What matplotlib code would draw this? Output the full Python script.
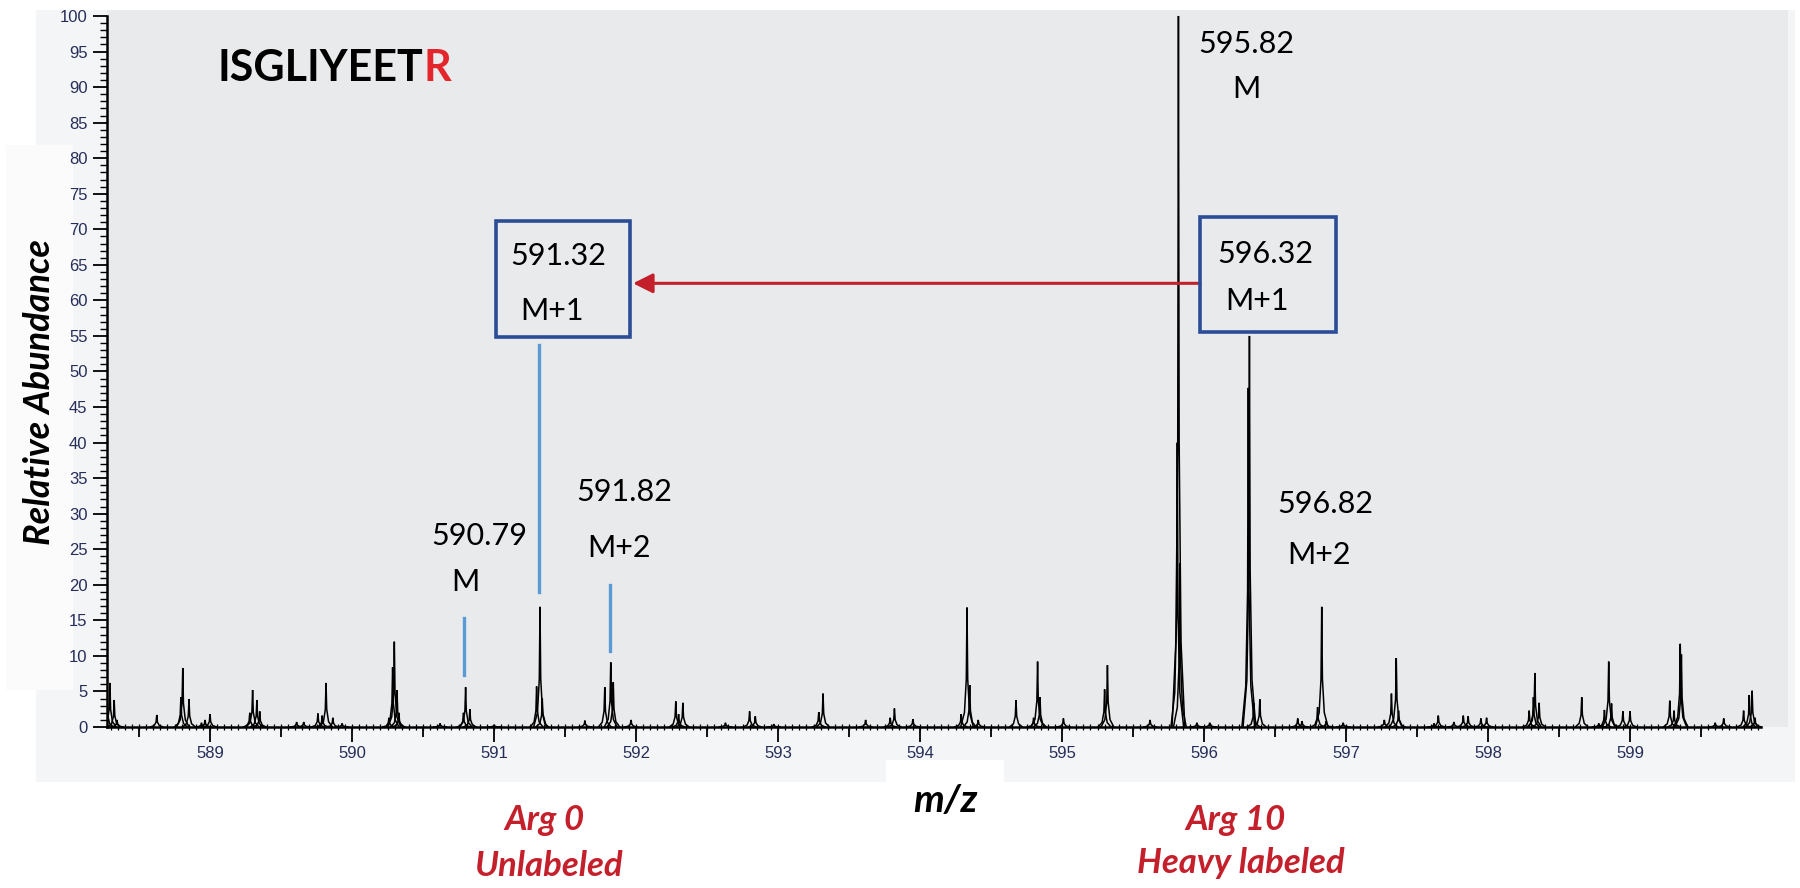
import numpy as np
import matplotlib
matplotlib.use("Agg")
import matplotlib.pyplot as plt
from matplotlib.patches import Rectangle
from matplotlib.ticker import MultipleLocator, FixedLocator

# Peak list: m/z and relative abundance (%)
PEAK_MZ = [
    588.275, 588.295, 588.325, 588.345, 588.625, 588.795, 588.808, 588.852,
    588.94, 588.965, 589.0, 589.28, 589.30, 589.33, 589.35, 589.61, 589.66,
    589.76, 589.79, 589.817, 589.865, 589.93, 590.26, 590.286, 590.298,
    590.317, 590.33, 590.62, 590.785, 590.80, 590.83, 591.0, 591.30, 591.324,
    591.34, 591.64, 591.78, 591.822, 591.84, 591.965, 592.28, 592.30, 592.33,
    592.63, 592.80, 592.84, 592.97, 593.287, 593.317, 593.617, 593.79, 593.82,
    593.95, 594.29, 594.331, 594.35, 594.41, 594.676, 594.80, 594.828,
    594.845, 595.01, 595.30, 595.32, 595.62, 595.812, 595.82, 595.83, 595.95,
    596.04, 596.312, 596.32, 596.35, 596.393, 596.66, 596.69, 596.80, 596.829,
    596.86, 596.98, 597.27, 597.32, 597.354, 597.37, 597.62, 597.65, 597.76,
    597.826, 597.86, 597.95, 597.99, 598.29, 598.32, 598.33, 598.36, 598.66,
    598.78, 598.82, 598.85, 598.87, 598.95, 599.0, 599.28, 599.31, 599.354,
    599.362, 599.60, 599.66, 599.80, 599.84, 599.86, 599.88,
]
PEAK_INT = [
    4.0, 6.2, 3.8, 1.0, 1.7, 4.2, 8.3, 3.9,
    0.6, 1.0, 1.8, 2.0, 5.2, 3.8, 2.2, 0.7, 0.7,
    1.9, 1.6, 6.2, 1.3, 0.5, 1.3, 8.4, 12.0,
    5.2, 2.0, 0.5, 2.0, 5.6, 2.5, 0.3, 5.7, 16.9,
    4.0, 0.9, 5.6, 9.1, 6.3, 1.0, 3.6, 1.8, 3.4,
    0.6, 2.2, 1.5, 0.4, 2.1, 4.7, 1.0, 1.3, 2.6,
    1.1, 1.8, 16.8, 5.9, 1.0, 3.8, 1.3, 9.2,
    4.2, 1.2, 5.3, 8.7, 1.0, 40.0, 100.0, 23.0, 0.6,
    0.6, 47.7, 55.0, 3.4, 3.9, 1.2, 0.8, 2.8, 16.9,
    0.8, 0.6, 1.0, 4.7, 9.7, 2.3, 0.5, 1.6, 0.7,
    1.6, 1.5, 1.2, 1.3, 2.3, 4.2, 7.6, 3.4, 4.2,
    0.5, 2.4, 9.2, 3.3, 2.2, 2.2, 3.7, 2.3, 11.7,
    10.2, 0.6, 1.2, 2.3, 4.5, 5.1, 1.3,
]

# Isotope labels
LABEL_MZ = ["590.79", "591.32", "591.82", "595.82", "596.32", "596.82"]
LABEL_TAG = ["M", "M+1", "M+2", "M", "M+1", "M+2"]

# labelled m/z ticks
XTICKS = [589, 590, 591, 592, 593, 594, 595, 596, 597, 598, 599]

PEPTIDE = "ISGLIYEET"
PEPTIDE_LAST = "R"

# profile shape of one peak (m/z offset, fraction of height)
SHAPE_DX = [-0.045, -0.018, -0.005, 0.0, 0.005, 0.018, 0.045]
SHAPE_FY = [0.0, 0.12, 0.4, 1.0, 0.4, 0.12, 0.0]

W, H = 1800.0, 888.0
X_LEFT, X_RIGHT, X_END = 588.2746, 600.1127, 599.92
PLOT_BG = "#e9eaec"
PANEL_BG = "#f4f5f7"
BOX_BLUE = "#2b4c96"
LINE_BLUE = "#5b9bd5"
DARK_RED = "#c4202b"
TICK_COL = "#262e58"
FONT = "Lato"


def px_rect(x0, y0, x1, y1, color):
    r = Rectangle((x0 / W, 1 - y1 / H), (x1 - x0) / W, (y1 - y0) / H,
                  transform=fig.transFigure, facecolor=color,
                  edgecolor="none", zorder=-5)
    fig.add_artist(r)


fig = plt.figure(figsize=(18, 8.88), dpi=100)
fig.patch.set_facecolor("white")

# background panels of the screenshot
px_rect(36, 10, 1795, 782, PANEL_BG)
px_rect(6, 145, 73, 690, "#fbfbfc")
px_rect(886, 760, 1004, 830, "white")

ax = fig.add_axes([107 / W, 1 - 727 / H, (1788 - 107) / W, (727 - 10) / H])
ax.set_facecolor(PLOT_BG)
ax.set_xlim(X_LEFT, X_RIGHT)
ax.set_ylim(0, 100.84)

# spectrum
for mz, h in zip(PEAK_MZ, PEAK_INT):
    xs = [mz + d for d in SHAPE_DX]
    ys = [h * f for f in SHAPE_FY]
    ax.plot(xs, ys, color="black", lw=1.1, solid_joinstyle="miter")

# axes styling
for s in ["top", "right"]:
    ax.spines[s].set_visible(False)
ax.spines["left"].set_bounds(0, 100)
ax.spines["bottom"].set_bounds(X_LEFT, X_END)
for s in ["left", "bottom"]:
    ax.spines[s].set_linewidth(1.8)
    ax.spines[s].set_color("black")

ax.xaxis.set_major_locator(FixedLocator(XTICKS))
ax.xaxis.set_minor_locator(FixedLocator([v + 0.5 for v in [588] + XTICKS]))
ax.yaxis.set_major_locator(MultipleLocator(5))
ax.yaxis.set_minor_locator(MultipleLocator(1))
ax.tick_params(axis="x", which="major", length=11, width=1.3, pad=3,
               labelsize=12, labelcolor=TICK_COL)
ax.tick_params(axis="x", which="minor", length=7, width=1.3)
ax.tick_params(axis="y", which="major", length=10, width=1.3, pad=4,
               labelsize=12, labelcolor=TICK_COL)
ax.tick_params(axis="y", which="minor", length=5, width=1.0)
for lab in ax.get_xticklabels() + ax.get_yticklabels():
    lab.set_family("Liberation Sans")

# tiny ticks along the m/z axis
sec = ax.secondary_xaxis(0)
sec.xaxis.set_major_locator(FixedLocator(np.arange(588.3, X_END, 0.05)))
sec.tick_params(axis="x", length=4, width=0.9, direction="inout", labelbottom=False)
sec.spines["bottom"].set_visible(False)

# peptide name, last residue in red
t1 = ax.text(589.056, 90.85, PEPTIDE, fontsize=31, fontweight="bold",
             family=FONT, ha="left", va="baseline")
ax.annotate(PEPTIDE_LAST, xy=(1, 0), xycoords=t1, fontsize=31,
            fontweight="bold", family=FONT, color="#e3262b",
            ha="left", va="bottom")

# isotope labels
txt_kw = dict(fontsize=22, family=FONT, ha="center", va="center")
ax.text(590.894, 26.8, LABEL_MZ[0], **txt_kw)
ax.text(590.796, 20.4, LABEL_TAG[0], **txt_kw)
ax.text(591.451, 66.2, LABEL_MZ[1], **txt_kw)
ax.text(591.408, 58.5, LABEL_TAG[1], **txt_kw)
ax.text(591.915, 33.0, LABEL_MZ[2], **txt_kw)
ax.text(591.880, 25.2, LABEL_TAG[2], **txt_kw)
ax.text(596.296, 96.1, LABEL_MZ[3], **txt_kw)
ax.text(596.296, 89.7, LABEL_TAG[3], **txt_kw)
ax.text(596.430, 66.5, LABEL_MZ[4], **txt_kw)
ax.text(596.370, 59.9, LABEL_TAG[4], **txt_kw)
ax.text(596.852, 31.3, LABEL_MZ[5], **txt_kw)
ax.text(596.810, 24.2, LABEL_TAG[5], **txt_kw)

# boxes around M+1 labels
ax.add_patch(Rectangle((591.014, 54.9), 0.944, 16.2, fill=False,
                       edgecolor=BOX_BLUE, lw=2.6, zorder=5))
ax.add_patch(Rectangle((595.972, 55.6), 0.958, 16.1, fill=False,
                       edgecolor=BOX_BLUE, lw=2.6, zorder=5))

# blue marker lines above the light peaks
ax.plot([float(LABEL_MZ[0])] * 2, [7.3, 15.4], color=LINE_BLUE, lw=2.4)
ax.plot([float(LABEL_MZ[1])] * 2, [19.0, 53.7], color=LINE_BLUE, lw=2.4)
ax.plot([float(LABEL_MZ[2])] * 2, [10.7, 20.0], color=LINE_BLUE, lw=2.4)

# red arrow heavy M+1 -> light M+1
ax.annotate("", xy=(591.979, 62.4), xytext=(595.972, 62.4),
            arrowprops=dict(arrowstyle="-|>", color=DARK_RED, lw=2.2,
                            mutation_scale=30, shrinkA=0, shrinkB=0))

# axis titles
fig.text(40 / W, 1 - 392 / H, "Relative Abundance", rotation=90,
         ha="center", va="center", fontsize=26, fontweight="bold",
         fontstyle="italic", family=FONT)
fig.text(945 / W, 1 - 800 / H, "m/z", ha="center", va="center",
         fontsize=28, fontweight="bold", fontstyle="italic", family=FONT)

# labelling state
lab_kw = dict(ha="center", va="center", fontsize=25, fontweight="bold",
              fontstyle="italic", family=FONT, color=DARK_RED)
fig.text(544 / W, 1 - 820 / H, "Arg 0", **lab_kw)
fig.text(549 / W, 1 - 866 / H, "Unlabeled", **lab_kw)
fig.text(1236 / W, 1 - 820 / H, "Arg 10", **lab_kw)
fig.text(1241 / W, 1 - 863 / H, "Heavy labeled", **lab_kw)

fig.savefig("out.png", dpi=100)
